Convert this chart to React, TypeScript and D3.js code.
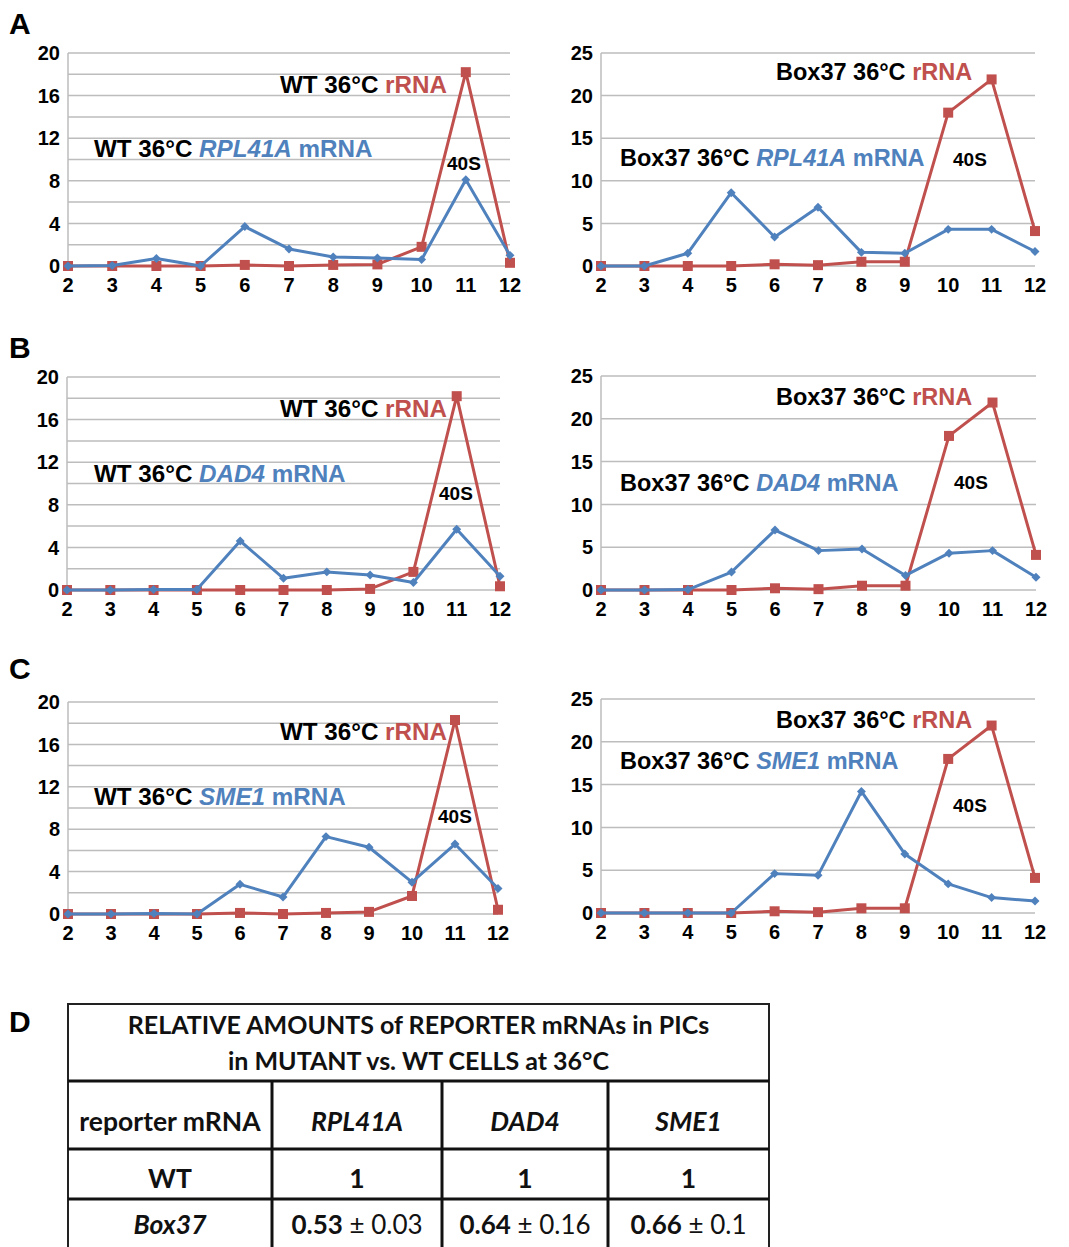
import React from "react";
import * as d3 from "d3";

// gradient fractions on the x axis
const fractions = [2, 3, 4, 5, 6, 7, 8, 9, 10, 11, 12];

// panel A
const wtRrnaA = [0, 0, 0, 0, 0.1, 0, 0.1, 0.15, 1.8, 18.2, 0.3];
const wtRpl41a = [0, 0.05, 0.7, 0, 3.7, 1.6, 0.85, 0.75, 0.6, 8.1, 1.0];
const box37RrnaA = [0, 0, 0, 0, 0.2, 0.1, 0.5, 0.5, 18, 21.9, 4.1];
const box37Rpl41a = [0, 0, 1.5, 8.6, 3.4, 6.9, 1.6, 1.5, 4.3, 4.3, 1.7];

// panel B
const wtRrnaB = [0, 0, 0, 0, 0, 0, 0, 0.1, 1.7, 18.2, 0.35];
const wtDad4 = [0, 0, 0.05, 0.05, 4.6, 1.1, 1.7, 1.4, 0.7, 5.7, 1.3];
const box37RrnaB = [0, 0, 0, 0, 0.2, 0.1, 0.5, 0.5, 18, 21.9, 4.1];
const box37Dad4 = [0, 0, 0.05, 2.1, 7.0, 4.6, 4.8, 1.7, 4.3, 4.6, 1.5];

// panel C
const wtRrnaC = [0, 0, 0, 0, 0.1, 0, 0.1, 0.2, 1.7, 18.3, 0.4];
const wtSme1 = [0, 0, 0.05, 0, 2.8, 1.6, 7.3, 6.3, 3.0, 6.6, 2.4];
const box37RrnaC = [0, 0, 0, 0, 0.2, 0.1, 0.55, 0.55, 18, 21.9, 4.1];
const box37Sme1 = [0, 0, 0, 0, 4.6, 4.4, 14.2, 6.9, 3.4, 1.8, 1.4];

// axis ticks
const wtTicks = [0, 4, 8, 12, 16, 20];
const wtGrid = [0, 2, 4, 6, 8, 10, 12, 14, 16, 18, 20];
const box37Ticks = [0, 5, 10, 15, 20, 25];

// panel D table
const tableTitle = ["RELATIVE AMOUNTS of REPORTER mRNAs in PICs", "in MUTANT vs. WT CELLS at 36°C"];
const tableHeader = ["reporter mRNA", "RPL41A", "DAD4", "SME1"];
const wtRow = ["1", "1", "1"];
const box37Means = ["0.53", "0.64", "0.66"];
const box37Errs = ["0.03", "0.16", "0.1"];

const RED = "#c0504d";
const BLUE = "#4f81bd";
const GRID = "#bdbdbd";
const ARIAL = "'Liberation Sans', Arial, sans-serif";
const CALIBRI = "Lato, 'Open Sans', sans-serif";

type PanelProps = {
  left: number;
  right: number;
  top: number;
  bottom: number;
  yMax: number;
  ticks: number[];
  grid: number[];
  rrna: number[];
  mrna: number[];
  strain: string;
  gene: string;
  fs: number;
  rrnaPos: [number, number];
  mrnaPos: [number, number];
  sPos: [number, number];
};

const Panel = (p: PanelProps) => {
  const x = d3.scaleLinear().domain([2, 12]).range([p.left, p.right]);
  const y = d3.scaleLinear().domain([0, p.yMax]).range([p.bottom, p.top]);
  const line = d3
    .line<number>()
    .x((d, i) => x(fractions[i]))
    .y((d) => y(d));
  const diamond = d3.symbol(d3.symbolSquare, 40)();

  return (
    <g>
      {p.grid.map((g) => (
        <line key={g} x1={x(2)} x2={x(12)} y1={y(g)} y2={y(g)} stroke={GRID} strokeWidth={1.5} />
      ))}
      <line x1={x(2)} x2={x(2)} y1={y(p.yMax)} y2={y(0)} stroke={GRID} strokeWidth={1.5} />
      {p.ticks.map((t) => (
        <text
          key={t}
          x={x(2) - 8}
          y={y(t)}
          dy="0.36em"
          textAnchor="end"
          fontSize={20}
          fontWeight="bold"
          fontFamily={ARIAL}
        >
          {t}
        </text>
      ))}
      {fractions.map((f) => (
        <text key={f} x={x(f)} y={y(0) + 26} textAnchor="middle" fontSize={20} fontWeight="bold" fontFamily={ARIAL}>
          {f}
        </text>
      ))}
      <path d={line(p.rrna) || ""} fill="none" stroke={RED} strokeWidth={3} strokeLinejoin="round" />
      {p.rrna.map((d, i) => (
        <rect key={i} x={x(fractions[i]) - 5} y={y(d) - 5} width={10} height={10} fill={RED} />
      ))}
      <path d={line(p.mrna) || ""} fill="none" stroke={BLUE} strokeWidth={3} strokeLinejoin="round" />
      {p.mrna.map((d, i) => (
        <path
          key={i}
          d={diamond || ""}
          transform={`translate(${x(fractions[i])},${y(d)}) rotate(45)`}
          fill={BLUE}
        />
      ))}
      <text x={p.rrnaPos[0]} y={p.rrnaPos[1]} fontSize={p.fs} fontWeight="bold" fontFamily={ARIAL}>
        <tspan fill="#000">{p.strain} 36°C </tspan>
        <tspan fill={RED}>rRNA</tspan>
      </text>
      <text x={p.mrnaPos[0]} y={p.mrnaPos[1]} fontSize={p.fs} fontWeight="bold" fontFamily={ARIAL}>
        <tspan fill="#000">{p.strain} 36°C </tspan>
        <tspan fill={BLUE} fontStyle="italic">{p.gene}</tspan>
        <tspan fill={BLUE}> mRNA</tspan>
      </text>
      <text x={p.sPos[0]} y={p.sPos[1]} fontSize={19} fontWeight="bold" fontFamily={ARIAL}>
        40S
      </text>
    </g>
  );
};

const panels: PanelProps[] = [
  { left: 68, right: 510, top: 53, bottom: 266, yMax: 20, ticks: wtTicks, grid: wtGrid, rrna: wtRrnaA, mrna: wtRpl41a, strain: "WT", gene: "RPL41A", fs: 24.2, rrnaPos: [280, 93], mrnaPos: [94, 157], sPos: [447, 170] },
  { left: 601, right: 1035, top: 53, bottom: 266, yMax: 25, ticks: box37Ticks, grid: box37Ticks, rrna: box37RrnaA, mrna: box37Rpl41a, strain: "Box37", gene: "RPL41A", fs: 23.5, rrnaPos: [776, 80], mrnaPos: [620, 166], sPos: [953, 166] },
  { left: 67, right: 500, top: 377, bottom: 590, yMax: 20, ticks: wtTicks, grid: wtGrid, rrna: wtRrnaB, mrna: wtDad4, strain: "WT", gene: "DAD4", fs: 24.2, rrnaPos: [280, 417], mrnaPos: [94, 482], sPos: [439, 500] },
  { left: 601, right: 1036, top: 376, bottom: 590, yMax: 25, ticks: box37Ticks, grid: box37Ticks, rrna: box37RrnaB, mrna: box37Dad4, strain: "Box37", gene: "DAD4", fs: 23.5, rrnaPos: [776, 405], mrnaPos: [620, 491], sPos: [954, 489] },
  { left: 68, right: 498, top: 702, bottom: 914, yMax: 20, ticks: wtTicks, grid: wtGrid, rrna: wtRrnaC, mrna: wtSme1, strain: "WT", gene: "SME1", fs: 24.2, rrnaPos: [280, 740], mrnaPos: [94, 805], sPos: [438, 823] },
  { left: 601, right: 1035, top: 699, bottom: 913, yMax: 25, ticks: box37Ticks, grid: box37Ticks, rrna: box37RrnaC, mrna: box37Sme1, strain: "Box37", gene: "SME1", fs: 23.5, rrnaPos: [776, 728], mrnaPos: [620, 769], sPos: [953, 812] },
];

const letters: [string, number][] = [
  ["A", 34],
  ["B", 358],
  ["C", 679],
  ["D", 1032],
];

const Table = () => {
  const cols = [68, 272, 442, 608, 769];
  const rows = [1004, 1081, 1149, 1199, 1252];
  const mid = (i: number) => (cols[i] + cols[i + 1]) / 2;
  const cx = (cols[0] + cols[4]) / 2;
  return (
    <g fontFamily={CALIBRI} fontSize={25} fill="#111">
      <rect x={cols[0]} y={rows[0]} width={cols[4] - cols[0]} height={rows[4] - rows[0]} fill="white" stroke="#222" strokeWidth={2} />
      {rows.slice(1, 4).map((r) => (
        <line key={r} x1={cols[0]} x2={cols[4]} y1={r} y2={r} stroke="#111" strokeWidth={3} />
      ))}
      {cols.slice(1, 4).map((c) => (
        <line key={c} x1={c} x2={c} y1={rows[1]} y2={rows[4]} stroke="#111" strokeWidth={3} />
      ))}
      <text x={cx} y={1034} textAnchor="middle" fontWeight="bold">{tableTitle[0]}</text>
      <text x={cx} y={1070} textAnchor="middle" fontWeight="bold">{tableTitle[1]}</text>
      {tableHeader.map((h, i) => (
        <text key={h} x={mid(i)} y={1131} textAnchor="middle" fontWeight="bold" fontStyle={i > 0 ? "italic" : "normal"} fontSize={26.5}>
          {h}
        </text>
      ))}
      <text x={mid(0)} y={1188} textAnchor="middle" fontWeight="bold" fontSize={26.5}>WT</text>
      {wtRow.map((v, i) => (
        <text key={i} x={mid(i + 1)} y={1188} textAnchor="middle" fontWeight="bold" fontSize={26.5}>{v}</text>
      ))}
      <text x={mid(0)} y={1234} textAnchor="middle" fontWeight="bold" fontStyle="italic" fontSize={26.5}>Box37</text>
      {box37Means.map((v, i) => (
        <text key={i} x={mid(i + 1)} y={1234} textAnchor="middle" fontSize={26}>
          <tspan fontWeight="bold">{v}</tspan>
          <tspan> ± {box37Errs[i]}</tspan>
        </text>
      ))}
    </g>
  );
};

export default function App() {
  return (
    <svg
      width={1069}
      height={1247}
      style={{ position: "absolute", left: 0, top: 0, background: "white" }}
    >
      <rect width={1069} height={1247} fill="white" />
      {letters.map(([l, yy]) => (
        <text key={l} x={9} y={yy} fontSize={30} fontWeight="bold" fontFamily={ARIAL}>
          {l}
        </text>
      ))}
      {panels.map((p, i) => (
        <Panel key={i} {...p} />
      ))}
      <Table />
    </svg>
  );
}
